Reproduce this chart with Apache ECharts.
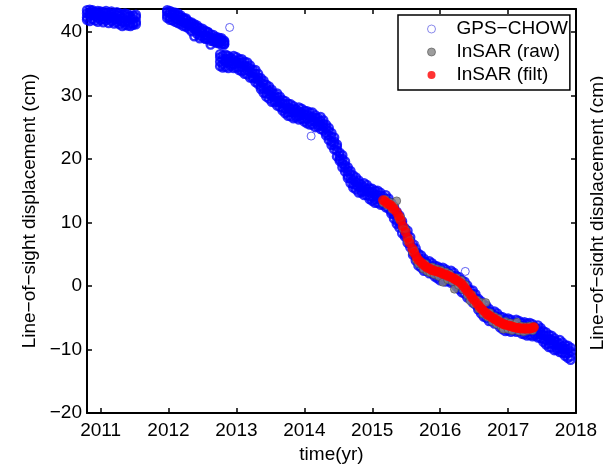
<!DOCTYPE html>
<html>
<head>
<meta charset="utf-8">
<script src="https://cdn.jsdelivr.net/npm/echarts@6/dist/echarts.min.js"></script>
<style>
  html, body { margin: 0; padding: 0; background: #fff; }
  #chart { width: 603px; height: 469px; }
</style>
</head>
<body>
<div id="chart"></div>
<script>
// GPS station CHOW, line-of-sight displacement (cm): each row is [time (yr), readings...]
const gpsEarly = [
  [2010.80, 43.4, 42.3, 42.9, 41.9],
  [2010.84, 42.6, 43.5, 41.7, 43.0],
  [2010.88, 43.2, 42.0, 42.7, 43.4],
  [2010.92, 41.8, 43.1, 42.5, 42.9],
  [2010.96, 42.9, 41.6, 43.3, 42.2],
  [2011.00, 42.4, 43.2, 41.9, 42.7],
  [2011.04, 43.1, 42.0, 42.6, 41.5],
  [2011.08, 41.8, 42.9, 43.3, 42.3],
  [2011.12, 42.6, 41.4, 43.0, 42.1],
  [2011.16, 43.2, 42.4, 41.7, 42.8],
  [2011.20, 41.9, 42.9, 42.3, 41.3],
  [2011.24, 42.7, 41.5, 43.1, 42.0],
  [2011.28, 41.2, 42.5, 42.9, 41.8],
  [2011.32, 42.8, 41.6, 42.2, 40.9],
  [2011.36, 41.5, 42.6, 41.1, 42.9],
  [2011.40, 42.4, 41.0, 42.8, 41.7],
  [2011.44, 41.3, 42.5, 40.9, 42.1],
  [2011.48, 42.6, 41.4, 42.0, 41.1],
  [2011.52, 41.6, 42.7, 41.2, 42.3]
];

const gpsMid = [
  [2011.98, 43.4, 42.6, 43.1, 42.2],
  [2012.02, 42.3, 43.3, 42.9, 41.9],
  [2012.06, 43.1, 41.8, 42.6, 42.9],
  [2012.10, 41.6, 42.8, 42.1, 43.0],
  [2012.14, 42.5, 41.4, 42.9, 41.9],
  [2012.18, 41.2, 42.3, 41.7, 42.6],
  [2012.22, 42.2, 40.9, 41.5, 42.0],
  [2012.26, 40.8, 41.9, 41.3, 42.1],
  [2012.30, 41.6, 40.5, 41.2, 40.9],
  [2012.34, 40.1, 41.3, 40.8, 41.5],
  [2012.38, 40.9, 39.3, 40.5, 41.2],
  [2012.42, 39.7, 40.7, 41.0, 40.1],
  [2012.46, 40.6, 39.4, 40.1, 39.0],
  [2012.50, 39.3, 40.5, 39.8, 40.2],
  [2012.54, 40.2, 39.0, 39.5, 38.9],
  [2012.58, 38.9, 39.9, 39.3, 40.0],
  [2012.62, 39.6, 38.6, 39.1, 38.0],
  [2012.66, 38.5, 39.5, 39.0, 38.7],
  [2012.70, 39.2, 38.3, 38.9, 38.6],
  [2012.74, 38.4, 39.1, 38.2, 38.8],
  [2012.78, 38.7, 38.0, 38.5, 39.0],
  [2012.82, 38.1, 38.6, 38.0, 38.4]
];

const gpsLate = [
  [2012.76, 36.5, 35.3, 36.0, 34.6],
  [2012.80, 34.9, 36.3, 34.4, 35.7],
  [2012.84, 35.7, 34.5, 36.4, 35.2],
  [2012.88, 34.3, 35.8, 35.2, 36.2],
  [2012.92, 35.9, 34.6, 35.4, 34.9],
  [2012.96, 34.9, 36.2, 34.3, 35.6],
  [2013.00, 36.0, 35.0, 34.4, 35.4],
  [2013.04, 34.4, 35.1, 35.7, 34.0],
  [2013.08, 35.7, 34.5, 35.2, 33.8],
  [2013.12, 33.9, 35.3, 33.4, 34.7],
  [2013.16, 34.5, 33.3, 35.2, 34.0],
  [2013.20, 32.8, 34.3, 33.7, 34.7],
  [2013.24, 34.0, 32.7, 33.5, 33.0],
  [2013.28, 32.7, 34.0, 32.1, 33.4],
  [2013.32, 33.4, 32.4, 31.8, 32.8],
  [2013.36, 31.4, 32.1, 32.7, 31.0],
  [2013.40, 32.3, 31.1, 31.8, 30.4],
  [2013.44, 30.3, 31.7, 29.8, 31.1],
  [2013.48, 30.7, 29.5, 31.4, 30.2],
  [2013.52, 29.0, 30.5, 29.9, 30.9],
  [2013.56, 30.2, 28.9, 29.7, 29.2],
  [2013.60, 29.0, 30.3, 28.4, 29.7],
  [2013.64, 29.8, 28.8, 28.2, 29.2],
  [2013.68, 28.0, 28.7, 29.3, 27.6],
  [2013.72, 29.1, 27.9, 28.6, 27.2],
  [2013.76, 27.3, 28.7, 26.8, 28.1],
  [2013.80, 27.9, 26.7, 28.6, 27.4],
  [2013.84, 26.4, 27.9, 27.3, 28.3],
  [2013.88, 27.8, 26.5, 27.3, 26.8],
  [2013.92, 26.8, 28.1, 26.2, 27.5],
  [2013.96, 27.9, 26.9, 26.3, 27.3],
  [2014.00, 26.3, 27.0, 27.6, 25.9],
  [2014.04, 27.5, 26.3, 27.0, 25.6],
  [2014.08, 25.9, 27.3, 25.4, 26.7],
  [2014.12, 26.6, 25.4, 27.3, 26.1],
  [2014.16, 25.0, 26.5, 25.9, 26.9],
  [2014.20, 26.4, 25.1, 25.9, 25.4],
  [2014.24, 25.3, 26.6, 24.7, 26.0],
  [2014.28, 26.1, 25.1, 24.5, 25.5],
  [2014.32, 24.1, 24.8, 25.4, 23.7],
  [2014.36, 24.9, 23.7, 24.4, 23.0],
  [2014.40, 22.7, 24.1, 22.2, 23.5],
  [2014.44, 22.7, 21.5, 23.4, 22.2],
  [2014.48, 20.4, 21.9, 21.3, 22.3],
  [2014.52, 21.0, 19.7, 20.5, 20.0],
  [2014.56, 19.3, 20.6, 18.7, 20.0],
  [2014.60, 19.6, 18.6, 18.0, 19.0],
  [2014.64, 17.4, 18.1, 18.7, 17.0],
  [2014.68, 18.1, 16.9, 17.6, 16.2],
  [2014.72, 16.0, 17.4, 15.5, 16.8],
  [2014.76, 16.4, 15.2, 17.1, 15.9],
  [2014.80, 14.7, 16.2, 15.6, 16.6],
  [2014.84, 16.0, 14.7, 15.5, 15.0],
  [2014.88, 14.9, 16.2, 14.3, 15.6],
  [2014.92, 15.9, 14.9, 14.3, 15.3],
  [2014.96, 14.1, 14.8, 15.4, 13.7],
  [2015.00, 15.3, 14.1, 14.8, 13.4],
  [2015.04, 13.6, 15.0, 13.1, 14.4],
  [2015.08, 14.3, 13.1, 15.0, 13.8],
  [2015.12, 12.8, 14.3, 13.7, 14.7],
  [2015.16, 14.1, 12.8, 13.6, 13.1],
  [2015.20, 13.0, 14.3, 12.4, 13.7],
  [2015.24, 13.8, 12.8, 12.2, 13.2],
  [2015.28, 11.8, 12.5, 13.1, 11.4],
  [2015.32, 12.5, 11.3, 12.0, 10.6],
  [2015.36, 10.3, 11.7, 9.8, 11.1],
  [2015.40, 10.4, 9.2, 11.1, 9.9],
  [2015.44, 8.3, 9.8, 9.2, 10.2],
  [2015.48, 9.1, 7.8, 8.6, 8.1],
  [2015.52, 7.4, 8.7, 6.8, 8.1],
  [2015.56, 7.7, 6.7, 6.1, 7.1],
  [2015.60, 5.3, 6.0, 6.6, 4.9],
  [2015.64, 5.9, 4.7, 5.4, 4.0],
  [2015.68, 3.7, 5.1, 3.2, 4.5],
  [2015.72, 4.1, 2.9, 4.8, 3.6],
  [2015.76, 2.4, 3.9, 3.3, 4.3],
  [2015.80, 3.7, 2.4, 3.2, 2.7],
  [2015.84, 2.6, 3.9, 2.0, 3.3],
  [2015.88, 3.6, 2.6, 2.0, 3.0],
  [2015.92, 1.9, 2.6, 3.2, 1.5],
  [2015.96, 3.1, 1.9, 2.6, 1.2],
  [2016.00, 1.4, 2.8, 0.9, 2.2],
  [2016.04, 2.2, 1.0, 2.9, 1.7],
  [2016.08, 0.7, 2.2, 1.6, 2.6],
  [2016.12, 2.1, 0.8, 1.6, 1.1],
  [2016.16, 1.1, 2.4, 0.5, 1.8],
  [2016.20, 2.1, 1.1, 0.5, 1.5],
  [2016.24, 0.3, 1.0, 1.6, -0.1],
  [2016.28, 1.4, 0.2, 0.9, -0.5],
  [2016.32, -0.5, 0.9, -1.0, 0.3],
  [2016.36, 0.0, -1.2, 0.7, -0.5],
  [2016.40, -1.8, -0.3, -0.9, 0.1],
  [2016.44, -0.7, -2.0, -1.2, -1.7],
  [2016.48, -2.0, -0.7, -2.6, -1.3],
  [2016.52, -1.3, -2.3, -2.9, -1.9],
  [2016.56, -3.3, -2.6, -2.0, -3.7],
  [2016.60, -2.4, -3.6, -2.9, -4.3],
  [2016.64, -4.3, -2.9, -4.8, -3.5],
  [2016.68, -3.8, -5.0, -3.1, -4.3],
  [2016.72, -5.5, -4.0, -4.6, -3.6],
  [2016.76, -4.2, -5.5, -4.7, -5.2],
  [2016.80, -5.3, -4.0, -5.9, -4.6],
  [2016.84, -4.3, -5.3, -5.9, -4.9],
  [2016.88, -6.1, -5.4, -4.8, -6.5],
  [2016.92, -4.9, -6.1, -5.4, -6.8],
  [2016.96, -6.6, -5.2, -7.1, -5.8],
  [2017.00, -5.8, -7.0, -5.1, -6.3],
  [2017.04, -7.2, -5.7, -6.3, -5.3],
  [2017.08, -5.7, -7.0, -6.2, -6.7],
  [2017.12, -6.6, -5.3, -7.2, -5.9],
  [2017.16, -5.5, -6.5, -7.1, -6.1],
  [2017.20, -7.1, -6.4, -5.8, -7.5],
  [2017.24, -5.7, -6.9, -6.2, -7.6],
  [2017.28, -7.3, -5.9, -7.8, -6.5],
  [2017.32, -6.5, -7.7, -5.8, -7.0],
  [2017.36, -7.9, -6.4, -7.0, -6.0],
  [2017.40, -6.5, -7.8, -7.0, -7.5],
  [2017.44, -7.5, -6.2, -8.1, -6.8],
  [2017.48, -6.6, -7.6, -8.2, -7.2],
  [2017.52, -8.4, -7.7, -7.1, -8.8],
  [2017.56, -7.3, -8.5, -7.8, -9.2],
  [2017.60, -9.1, -7.7, -9.6, -8.3],
  [2017.64, -8.5, -9.7, -7.8, -9.0],
  [2017.68, -10.1, -8.6, -9.2, -8.2],
  [2017.72, -8.8, -10.1, -9.3, -9.8],
  [2017.76, -9.8, -8.5, -10.4, -9.1],
  [2017.80, -8.9, -9.9, -10.5, -9.5],
  [2017.84, -10.6, -9.9, -9.3, -11.0],
  [2017.88, -9.4, -10.6, -9.9, -11.3],
  [2017.92, -11.1, -9.7, -11.6, -10.3]
];

// isolated GPS readings away from the main trend
const gpsStray = [
  [2012.90, 40.7],
  [2014.10, 23.6],
  [2015.63, 6.5],
  [2016.37, 2.3]
];

// InSAR time series: [time (yr), raw, filtered]
const insarRows = [
  [2015.16, 13.1, 13.5], [2015.19, 13.6, 13.3], [2015.22, 12.7, 13.0],
  [2015.26, 13.2, 12.8], [2015.29, 12.1, 12.5], [2015.32, 12.6, 12.1],
  [2015.36, 13.4, 11.6], [2015.39, 10.6, 11.0], [2015.42, 10.8, 10.3],
  [2015.45, 9.0, 9.4],   [2015.49, 8.9, 8.5],   [2015.52, 7.1, 7.6],
  [2015.55, 7.3, 6.8],   [2015.59, 5.4, 5.9],   [2015.62, 5.6, 5.2],
  [2015.65, 4.1, 4.6],   [2015.68, 3.5, 4.1],   [2015.72, 3.5, 3.7],
  [2015.75, 2.7, 3.4],   [2015.78, 3.5, 3.1],   [2015.81, 2.3, 2.9],
  [2015.85, 2.1, 2.7],   [2015.88, 3.0, 2.5],   [2015.91, 1.8, 2.4],
  [2015.95, 2.7, 2.3],   [2015.98, 1.5, 2.2],   [2016.01, 2.5, 2.1],
  [2016.04, 0.6, 1.9],   [2016.08, 2.2, 1.8],   [2016.11, 1.0, 1.6],
  [2016.14, 1.9, 1.5],   [2016.18, 0.7, 1.3],   [2016.21, -0.5, 1.1],
  [2016.24, 1.3, 0.9],   [2016.27, 0.1, 0.7],   [2016.31, 0.9, 0.4],
  [2016.34, -0.6, 0.0],  [2016.37, 0.2, -0.4],  [2016.40, -1.4, -0.8],
  [2016.44, -2.3, -1.3], [2016.47, -1.4, -1.8], [2016.50, -2.8, -2.2],
  [2016.54, -2.2, -2.7], [2016.57, -3.6, -3.1], [2016.60, -2.6, -3.5],
  [2016.63, -4.4, -3.8], [2016.67, -2.6, -4.2], [2016.70, -4.9, -4.5],
  [2016.73, -4.2, -4.7], [2016.77, -5.6, -5.0], [2016.80, -4.8, -5.2],
  [2016.83, -6.0, -5.4], [2016.86, -5.1, -5.6], [2016.90, -6.4, -5.8],
  [2016.93, -6.8, -6.0], [2016.96, -5.6, -6.1], [2017.00, -6.8, -6.2],
  [2017.03, -5.8, -6.3], [2017.06, -7.0, -6.4], [2017.09, -6.1, -6.5],
  [2017.13, -5.7, -6.6], [2017.16, -7.1, -6.6], [2017.19, -6.3, -6.7],
  [2017.23, -7.2, -6.7], [2017.26, -6.4, -6.7], [2017.29, -7.0, -6.7],
  [2017.32, -6.3, -6.7], [2017.36, -7.0, -6.6], [2017.38, -6.4, -6.5]
];

const xTicks = [2011, 2012, 2013, 2014, 2015, 2016, 2017, 2018];
const yTicks = [-20, -10, 0, 10, 20, 30, 40];

const seriesNames = ['GPS\u2212CHOW', 'InSAR (raw)', 'InSAR (filt)'];
const yAxisTitle = 'Line\u2212of\u2212sight displacement (cm)';

const FONT = '"Liberation Sans", Arial, Helvetica, sans-serif';

function expandRows(rows) {
  const out = [];
  rows.forEach(r => { for (let i = 1; i < r.length; i++) out.push([r[0], r[i]]); });
  return out;
}
const gpsPoints = expandRows(gpsEarly).concat(expandRows(gpsMid), expandRows(gpsLate));
const insarRaw = insarRows.map(r => [r[0], r[1]]);
const insarFilt = insarRows.map(r => [r[0], r[2]]);

const minus = v => String(v).replace('-', '\u2212');

const axisLineStyle = { color: '#000', width: 2 };
const tickStyle = { color: '#000', width: 1.5 };

const chart = echarts.init(document.getElementById('chart'), null, { renderer: 'canvas' });
chart.setOption({
  animation: false,
  backgroundColor: '#fff',
  textStyle: { fontFamily: FONT },
  grid: { left: 87, right: 27, top: 9, bottom: 51, containLabel: false },
  legend: {
    data: [
      { name: seriesNames[0], icon: 'circle', itemStyle: { color: '#fff', borderColor: '#6b6be6', borderWidth: 1 } },
      { name: seriesNames[1], icon: 'circle', itemStyle: { color: '#858585', borderColor: '#555', borderWidth: 0.8 } },
      { name: seriesNames[2], icon: 'circle', itemStyle: { color: '#ff0000', borderWidth: 0 } }
    ],
    orient: 'vertical',
    left: 398,
    top: 15,
    padding: [4, 2, 5, 29],
    itemWidth: 8,
    itemHeight: 8,
    itemGap: 3,
    backgroundColor: '#fff',
    borderColor: '#000',
    borderWidth: 1.5,
    borderRadius: 0,
    selectedMode: false,
    textStyle: { fontFamily: FONT, fontSize: 19, color: '#000', lineHeight: 20, padding: [0, 0, 0, 16] }
  },
  xAxis: [
    {
      type: 'value', position: 'bottom', min: 2010.8, max: 2018,
      name: 'time(yr)', nameLocation: 'middle', nameGap: 28,
      nameTextStyle: { fontFamily: FONT, fontSize: 19, color: '#000' },
      axisLine: { show: true, onZero: false, lineStyle: axisLineStyle },
      axisTick: { show: true, inside: true, length: 5, customValues: xTicks, lineStyle: tickStyle },
      axisLabel: { show: true, customValues: xTicks, fontFamily: FONT, fontSize: 19, color: '#000', margin: 8, formatter: v => String(v) },
      splitLine: { show: false }
    },
    {
      type: 'value', position: 'top', min: 2010.8, max: 2018,
      axisLine: { show: true, onZero: false, lineStyle: axisLineStyle },
      axisTick: { show: true, inside: true, length: 5, customValues: xTicks, lineStyle: tickStyle },
      axisLabel: { show: false },
      splitLine: { show: false }
    }
  ],
  yAxis: [
    {
      type: 'value', position: 'left', min: -20, max: 43.6,
      name: yAxisTitle, nameLocation: 'middle', nameGap: 37, nameRotate: 90,
      nameTextStyle: { fontFamily: FONT, fontSize: 19, color: '#000' },
      axisLine: { show: true, onZero: false, lineStyle: axisLineStyle },
      axisTick: { show: true, inside: true, length: 5, customValues: yTicks, lineStyle: tickStyle },
      axisLabel: { show: true, customValues: yTicks, fontFamily: FONT, fontSize: 19, color: '#000', margin: 5, formatter: minus },
      splitLine: { show: false }
    },
    {
      type: 'value', position: 'right', min: -20, max: 43.6,
      axisLine: { show: true, onZero: false, lineStyle: axisLineStyle },
      axisTick: { show: true, inside: true, length: 5, customValues: yTicks, lineStyle: tickStyle },
      axisLabel: { show: false },
      splitLine: { show: false }
    }
  ],
  series: [
    {
      // dense daily solutions: heavier rings so the overlapping band reads as solid
      name: seriesNames[0], type: 'scatter', xAxisIndex: 0, yAxisIndex: 0,
      data: gpsPoints, symbol: 'circle', symbolSize: 8, large: false,
      itemStyle: { color: 'rgba(0,0,255,0)', borderColor: '#0000ff', borderWidth: 2.4 },
      emphasis: { disabled: true }, z: 2
    },
    {
      name: seriesNames[0], type: 'scatter', xAxisIndex: 0, yAxisIndex: 0,
      data: gpsStray, symbol: 'circle', symbolSize: 8,
      itemStyle: { color: 'rgba(0,0,255,0)', borderColor: '#3a3af0', borderWidth: 1 },
      emphasis: { disabled: true }, z: 2
    },
    {
      name: seriesNames[1], type: 'scatter', xAxisIndex: 0, yAxisIndex: 0,
      data: insarRaw, symbol: 'circle', symbolSize: 8,
      itemStyle: { color: '#858585', borderColor: '#4d4d4d', borderWidth: 0.8 },
      emphasis: { disabled: true }, z: 3
    },
    {
      name: seriesNames[2], type: 'scatter', xAxisIndex: 0, yAxisIndex: 0,
      data: insarFilt, symbol: 'circle', symbolSize: 10,
      itemStyle: { color: '#ff0000', borderWidth: 0 },
      emphasis: { disabled: true }, z: 4
    }
  ],
  graphic: [
    {
      // axis title of the neighbouring panel, cut by the right edge
      type: 'text', x: 598, y: 213, rotation: Math.PI / 2,
      style: { text: yAxisTitle, fontFamily: FONT, fontSize: 19, fill: '#000', align: 'center', verticalAlign: 'middle' },
      silent: true
    }
  ]
});
</script>
</body>
</html>
